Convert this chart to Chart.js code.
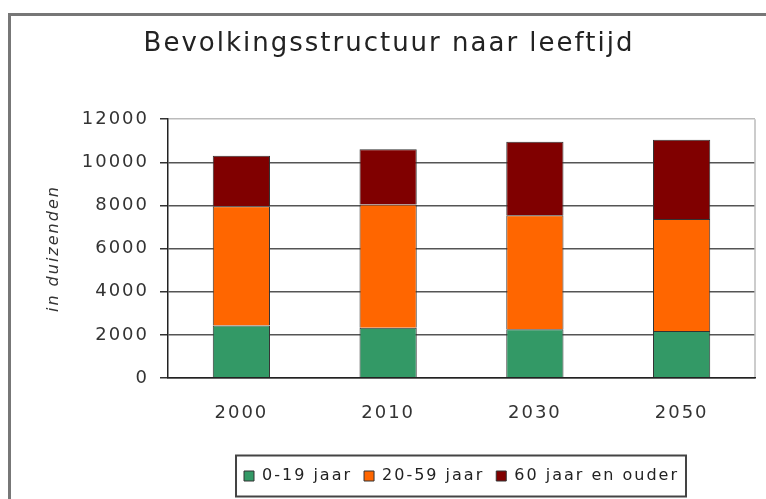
<!DOCTYPE html>
<html>
<head>
<meta charset="utf-8">
<script src="https://cdn.jsdelivr.net/npm/chart.js@4"></script>
<style>
  html, body { margin: 0; padding: 0; background: #fff; overflow: hidden; }
  #frame { position: absolute; left: 8px; top: 13px; width: 800px; height: 600px;
           border-left: 3px solid #777; border-top: 3px solid #777; }
  #wrap { position: absolute; left: 0; top: 0; width: 766px; height: 499px; }
</style>
</head>
<body>
<div id="frame"></div>
<div id="wrap"><canvas id="popChart" width="766" height="499"></canvas></div>
<script>
// jaren en waarden (in duizenden)
const years = ['2000', '2010', '2030', '2050'];
const young = [2440, 2335, 2255, 2175];   // 0-19 jaar
const adults = [5525, 5710, 5290, 5200];  // 20-59 jaar
const elderly = [2335, 2565, 3405, 3670]; // 60 jaar en ouder
const seriesNames = ['0-19 jaar', '20-59 jaar', '60 jaar en ouder'];
const yTicks = [0, 2000, 4000, 6000, 8000, 10000, 12000];

const FONT = "'DejaVu Sans', Verdana, sans-serif";

// letter spacing on the canvas (the original text is quite spaced)
const spacingPlugin = {
  id: 'spacing',
  afterInit(chart) { chart.ctx.letterSpacing = '2px'; },
  beforeUpdate(chart) { chart.ctx.letterSpacing = '2px'; },
  beforeDraw(chart) { chart.ctx.letterSpacing = '2px'; }
};

// right edge of the plot + box round the legend
const framePlugin = {
  id: 'frames',
  beforeDatasetsDraw(chart) {
    const { ctx, chartArea } = chart;
    ctx.save();
    ctx.strokeStyle = '#bbb';
    ctx.lineWidth = 1.5;
    ctx.beginPath();
    ctx.moveTo(chartArea.right, chartArea.top);
    ctx.lineTo(chartArea.right, chartArea.bottom);
    ctx.stroke();
    ctx.restore();
  },
  afterDraw(chart) {
    const boxes = chart.legend.legendHitBoxes;
    if (!boxes || !boxes.length) return;
    const first = boxes[0];
    const last = boxes[boxes.length - 1];
    const cy = first.top + first.height / 2;
    const ctx = chart.ctx;
    ctx.save();
    ctx.strokeStyle = '#444';
    ctx.lineWidth = 2;
    const x0 = first.left - 8;
    const x1 = last.left + last.width + 7;
    ctx.strokeRect(x0, cy - 20.5, x1 - x0, 41);
    ctx.restore();
  }
};

new Chart(document.getElementById('popChart'), {
  type: 'bar',
  data: {
    labels: years,
    datasets: [
      { label: seriesNames[0], data: young, backgroundColor: '#339966' },
      { label: seriesNames[1], data: adults, backgroundColor: '#ff6600' },
      { label: seriesNames[2], data: elderly, backgroundColor: '#800000' }
    ]
  },
  options: {
    responsive: false,
    animation: false,
    layout: { padding: { left: 23, right: 11, top: 0, bottom: 5 } },
    datasets: {
      bar: {
        categoryPercentage: 1,
        barPercentage: 0.39,
        borderColor: '#333',
        borderWidth: 1
      }
    },
    scales: {
      x: {
        stacked: true,
        grid: { display: false, drawTicks: false },
        border: { color: '#222', width: 1.5, z: 1 },
        ticks: { color: '#333', padding: 25, font: { family: FONT, size: 18 } },
        afterFit(scale) { scale.height = 78; }
      },
      y: {
        stacked: true,
        min: 0,
        max: 12000,
        afterBuildTicks(scale) { scale.ticks = yTicks.map(v => ({ value: v })); },
        grid: {
          color: ctx => ctx.tick && ctx.tick.value === 12000 ? '#bbb' : '#555',
          lineWidth: 1.5,
          tickColor: '#333',
          tickLength: 8
        },
        border: { color: '#222', width: 1.5, z: 1 },
        ticks: {
          color: '#333',
          padding: 11,
          font: { family: FONT, size: 18 },
          callback: v => String(v)
        },
        title: {
          display: true,
          text: 'in duizenden',
          color: '#333',
          padding: { top: 21, bottom: 0 },
          font: { family: FONT, size: 16, style: 'italic' }
        },
        afterFit(scale) { scale.width = 145; }
      }
    },
    plugins: {
      title: {
        display: true,
        text: 'Bevolkingsstructuur naar leeftijd',
        color: '#222',
        padding: { top: 29, bottom: 59 },
        font: { family: FONT, size: 26, weight: 'normal' }
      },
      legend: {
        position: 'bottom',
        fullSize: false,
        labels: {
          color: '#222',
          boxWidth: 10,
          boxHeight: 10,
          padding: 12,
          font: { family: FONT, size: 16 }
        }
      },
      tooltip: { enabled: false }
    }
  },
  plugins: [spacingPlugin, framePlugin]
});
</script>
</body>
</html>
